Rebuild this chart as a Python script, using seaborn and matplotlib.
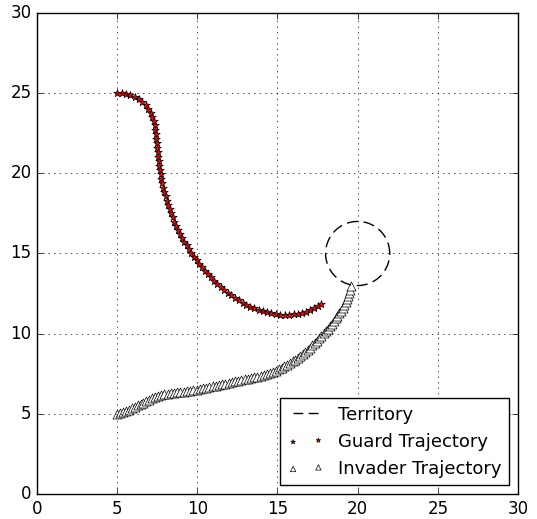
import numpy as np
import pandas as pd
import matplotlib
matplotlib.use("Agg")
import matplotlib.pyplot as plt
import seaborn as sns

# Territory (dashed circle)
territory_center = (20.0, 15.0)
territory_radius = 2.0

# Guard trajectory
guard_x = [5.00, 5.28, 5.56, 5.83, 6.09, 6.34, 6.57, 6.77, 6.94, 7.08,
           7.19, 7.28, 7.34, 7.39, 7.42, 7.45, 7.47, 7.50, 7.52, 7.55,
           7.58, 7.62, 7.66, 7.71, 7.76, 7.82, 7.88, 7.95, 8.02, 8.10,
           8.18, 8.27, 8.36, 8.46, 8.57, 8.68, 8.80, 8.92, 9.05, 9.19,
           9.33, 9.48, 9.63, 9.79, 9.95, 10.12, 10.29, 10.47, 10.66, 10.85,
           11.05, 11.25, 11.46, 11.67, 11.89, 12.11, 12.34, 12.58, 12.82, 13.06,
           13.31, 13.56, 13.82, 14.08, 14.35, 14.62, 14.89, 15.16, 15.44, 15.72,
           16.00, 16.27, 16.54, 16.80, 17.05, 17.29, 17.52, 17.70]
guard_y = [25.00, 24.99, 24.95, 24.87, 24.76, 24.62, 24.45, 24.25, 24.03, 23.79,
           23.53, 23.27, 23.00, 22.72, 22.44, 22.16, 21.88, 21.60, 21.32, 21.04,
           20.76, 20.48, 20.20, 19.93, 19.65, 19.38, 19.11, 18.84, 18.57, 18.30,
           18.03, 17.77, 17.51, 17.25, 16.99, 16.73, 16.48, 16.23, 15.98, 15.74,
           15.50, 15.26, 15.03, 14.80, 14.57, 14.35, 14.13, 13.92, 13.71, 13.51,
           13.31, 13.11, 12.92, 12.74, 12.56, 12.39, 12.23, 12.08, 11.94, 11.81,
           11.69, 11.58, 11.48, 11.40, 11.32, 11.26, 11.22, 11.19, 11.18, 11.18,
           11.20, 11.24, 11.30, 11.38, 11.48, 11.60, 11.72, 11.82]

# Invader trajectory
invader_x = [5.00, 5.19, 5.38, 5.56, 5.74, 5.92, 6.10, 6.28, 6.46, 6.64,
             6.82, 7.00, 7.18, 7.37, 7.56, 7.75, 7.95, 8.15, 8.35, 8.55,
             8.75, 8.95, 9.15, 9.35, 9.55, 9.75, 9.95, 10.15, 10.35, 10.55,
             10.75, 10.95, 11.15, 11.35, 11.55, 11.75, 11.95, 12.15, 12.35, 12.55,
             12.75, 12.95, 13.15, 13.35, 13.55, 13.75, 13.95, 14.14, 14.33, 14.52,
             14.71, 14.89, 15.07, 15.25, 15.43, 15.60, 15.77, 15.94, 16.10, 16.26,
             16.42, 16.58, 16.73, 16.88, 17.03, 17.18, 17.32, 17.46, 17.60, 17.74,
             17.87, 18.00, 18.13, 18.26, 18.38, 18.50, 18.62, 18.74, 18.86, 18.97,
             19.07, 19.17, 19.26, 19.34, 19.41, 19.47, 19.52, 19.56]
invader_y = [5.00, 5.05, 5.11, 5.18, 5.26, 5.34, 5.43, 5.52, 5.61, 5.70,
             5.79, 5.88, 5.96, 6.04, 6.11, 6.17, 6.21, 6.25, 6.28, 6.30,
             6.33, 6.36, 6.39, 6.42, 6.45, 6.48, 6.51, 6.55, 6.59, 6.63,
             6.67, 6.71, 6.75, 6.79, 6.83, 6.88, 6.93, 6.98, 7.03, 7.07,
             7.11, 7.15, 7.19, 7.23, 7.27, 7.31, 7.35, 7.40, 7.46, 7.53,
             7.60, 7.68, 7.77, 7.86, 7.96, 8.06, 8.16, 8.27, 8.38, 8.50,
             8.62, 8.74, 8.87, 9.00, 9.13, 9.27, 9.41, 9.56, 9.71, 9.86,
             10.01, 10.16, 10.31, 10.47, 10.63, 10.79, 10.95, 11.11, 11.27, 11.44,
             11.61, 11.79, 11.97, 12.16, 12.35, 12.55, 12.75, 12.95]

ticks = [0, 5, 10, 15, 20, 25, 30]

plt.style.use("classic")
plt.rcParams["font.family"] = ["DejaVu Sans"]
plt.rcParams["figure.facecolor"] = "white"
plt.rcParams["savefig.facecolor"] = "white"

fig = plt.figure(figsize=(5.37, 5.19), dpi=100)
ax = fig.add_axes([0.0689, 0.0482, 0.8957, 0.9268])

theta = np.linspace(0, 2 * np.pi, 200)
circle_df = pd.DataFrame({
    "x": territory_center[0] + territory_radius * np.cos(theta),
    "y": territory_center[1] + territory_radius * np.sin(theta),
})
sns.lineplot(data=circle_df, x="x", y="y", sort=False, estimator=None,
             errorbar=None, ax=ax, color="black", linestyle=(0, (8, 4)),
             linewidth=1.0, label="Territory")

guard_df = pd.DataFrame({"x": guard_x, "y": guard_y})
sns.scatterplot(data=guard_df, x="x", y="y", ax=ax, marker="*", s=32,
                color="red", edgecolor="black", linewidth=0.5,
                label="Guard Trajectory")

invader_df = pd.DataFrame({"x": invader_x, "y": invader_y})
sns.scatterplot(data=invader_df, x="x", y="y", ax=ax, marker="^", s=42,
                color="white", edgecolor="black", linewidth=0.5,
                label="Invader Trajectory")

ax.set_xlim(0, 30)
ax.set_ylim(0, 30)
ax.set_xticks(ticks)
ax.set_yticks(ticks)
ax.set_xlabel("")
ax.set_ylabel("")
ax.grid(True, color="black", linestyle=":", linewidth=0.5)
ax.tick_params(direction="in", top=True, right=True, labelsize=12)

leg = ax.legend(loc="lower right", scatterpoints=2, numpoints=2,
                fontsize=13, fancybox=False, frameon=True, markerscale=0.6,
                handlelength=2.0, handletextpad=0.8, borderaxespad=0.5)
leg.get_frame().set_edgecolor("black")
for ln in leg.get_lines():
    ln.set_linestyle((0, (7, 4)))

fig.savefig("out.png", dpi=100)
